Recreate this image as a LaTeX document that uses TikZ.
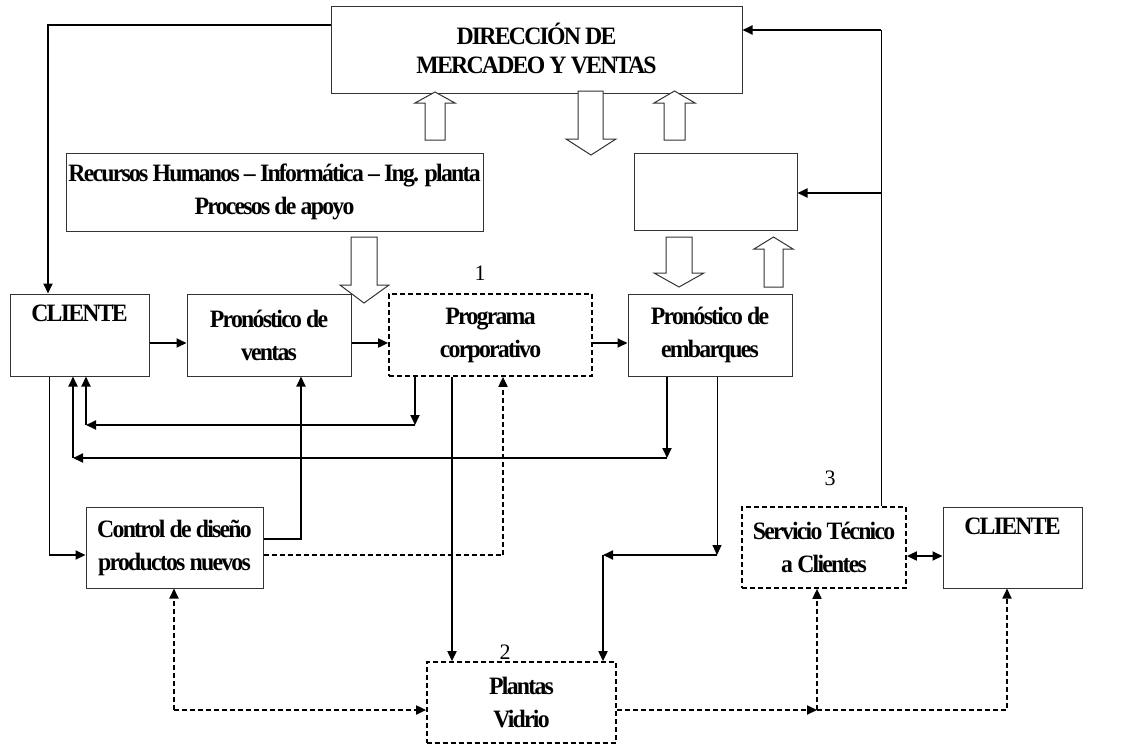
\documentclass[tikz,border=0pt]{standalone}
\usepackage{fontspec}
\setmainfont{Liberation Serif}
\newfontfamily\tightfont{Liberation Serif}[FakeStretch=0.95,LetterSpace=-7]
\usetikzlibrary{arrows.meta}
\begin{document}
\begin{tikzpicture}[x=1pt,y=-1pt,
  box/.style={draw=black!80,line width=1pt,inner sep=0pt,align=center,
    font=\tightfont\fontsize{25}{33}\selectfont\bfseries},
  dbox/.style={box,draw=black,line width=1.7pt,dash pattern=on 5pt off 3pt},
  conn/.style={line width=1.8pt,-{Triangle[length=10pt,width=9pt]}},
  thinl/.style={line width=1pt},
  dconn/.style={conn,dash pattern=on 5pt off 3pt},
  barrow/.style={draw=black!80,line width=1pt,fill=white,line join=miter},
  num/.style={font=\fontsize{22}{24}\selectfont,inner sep=0pt}]
\useasboundingbox (0,0) rectangle (1123,747);
% boxes
\node[box,minimum width=411pt,minimum height=87pt,font=\tightfont\fontsize{25}{29}\selectfont\bfseries] (dir) at (536.5,49.5) {DIRECCIÓN DE\\MERCADEO Y VENTAS\\[-26pt]\mbox{}};
\node[box,minimum width=417pt,minimum height=78pt] (rec) at (274.5,192) {Recursos Humanos – Informática – Ing. planta\\Procesos de apoyo};
\node[box,minimum width=163pt,minimum height=77pt] (blank) at (715.5,191.5) {};
\node[box,minimum width=139pt,minimum height=82pt] (cli) at (79.5,335) {CLIENTE\\\strut};
\node[box,minimum width=164pt,minimum height=82pt] (pv) at (269,335) {Pronóstico de\\ventas};
\node[dbox,minimum width=203pt,minimum height=82pt] (prog) at (490.5,335) {Programa\\corporativo};
\node[box,minimum width=164pt,minimum height=82pt] (pe) at (710,335) {Pronóstico de\\embarques};
\node[box,minimum width=177pt,minimum height=81pt] (cd) at (174.5,547.5) {Control de diseño\\productos nuevos};
\node[dbox,minimum width=189pt,minimum height=81pt] (pl) at (521.5,702.5) {Plantas\\Vidrio};
\node[dbox,minimum width=164pt,minimum height=81pt] (st) at (824,547.5) {Servicio Técnico\\a Clientes};
\node[box,minimum width=139pt,minimum height=81pt] (cr) at (1012.5,547.5) {CLIENTE\\\strut};
% numbers
\node[num] (n1) at (480,273) {1};
\node[num] (n2) at (505,652) {2};
\node[num] (n3) at (830,478) {3};
% block arrows
\draw[barrow] (425,140) -- (425,103) -- (415,103) -- (435,92) -- (455,103) -- (445,103) -- (445,140) -- cycle;
\draw[barrow] (578,91) -- (578,139) -- (566,139) -- (591,155) -- (616,139) -- (603,139) -- (603,91) -- cycle;
\draw[barrow] (664,140) -- (664,103) -- (654,103) -- (674.5,91) -- (695,103) -- (685,103) -- (685,140) -- cycle;
\draw[barrow] (351,237) -- (351,285) -- (340,285) -- (364,303) -- (389,285) -- (377,285) -- (377,237) -- cycle;
\draw[barrow] (666,237) -- (666,273) -- (654,273) -- (679,287) -- (704,273) -- (692,273) -- (692,237) -- cycle;
\draw[barrow] (764,287) -- (764,249) -- (754,249) -- (773.5,237) -- (793,249) -- (783,249) -- (783,287) -- cycle;
% connectors
\coordinate (c1) at (48,25);
\draw[conn] (dir.west |- c1) -- (c1) -- (cli.north -| c1);
\coordinate (c2) at (881,30);
\coordinate (c3) at (881,193);
\draw[thinl] (st.north -| c2) -- (c2);
\draw[conn] (c2) -- (dir.east |- c2);
\draw[conn] (c3) -- (blank.east |- c3);
\coordinate (r1) at (0,343);
\draw[conn] (cli.east |- r1) -- (pv.west |- r1);
\draw[conn] (pv.east |- r1) -- (prog.west |- r1);
\draw[conn] (prog.east |- r1) -- (pe.west |- r1);
% feedback to cliente
\coordinate (f1) at (415,425);
\coordinate (f1l) at (86,425);
\draw[conn] (prog.south -| f1) -- (f1);
\draw[conn] (f1) -- (f1l);
\draw[conn] (f1l) -- (cli.south -| f1l);
\coordinate (f2) at (667,458);
\coordinate (f2l) at (73,458);
\draw[conn] (pe.south -| f2) -- (f2);
\draw[conn] (f2) -- (f2l);
\draw[conn] (f2l) -- (cli.south -| f2l);
% cliente to control de diseno
\coordinate (g1) at (49,555);
\draw[thinl] (cli.south -| g1) -- (g1);
\draw[conn] (g1) -- (cd.west |- g1);
% control de diseno to pronostico ventas
\coordinate (h1) at (301,539);
\draw[conn] (cd.east |- h1) -- (h1) -- (pv.south -| h1);
% dashed control de diseno to programa
\coordinate (k1) at (503,555);
\draw[dconn] (cd.east |- k1) -- (k1) -- (prog.south -| k1);
% programa to plantas
\coordinate (m1) at (452,0);
\draw[conn] (prog.south -| m1) -- (pl.north -| m1);
% embarques to plantas
\coordinate (p1) at (717,555);
\coordinate (p2) at (603,555);
\draw[line width=1pt,-{Triangle[length=10pt,width=9pt]}] (pe.south -| p1) -- (p1);
\draw[conn] (p1) -- (p2);
\draw[conn] (p2) -- (pl.north -| p2);
% servicio tecnico <-> cliente
\coordinate (s1) at (0,556);
\draw[line width=1.8pt,{Triangle[length=10pt,width=9pt]}-{Triangle[length=10pt,width=9pt]}] (st.east |- s1) -- (cr.west |- s1);
% dashed bottom
\coordinate (d1) at (174,710);
\draw[dconn] (d1) -- (cd.south -| d1);
\draw[dconn] (d1) -- (pl.west |- d1);
\coordinate (d2) at (817,710);
\coordinate (d3) at (1007,710);
\draw[dconn] (pl.east |- d2) -- (d2);
\draw[dconn] (d2) -- (d3) -- (cr.south -| d3);
\draw[dconn] (d2) -- (st.south -| d2);
\end{tikzpicture}
\end{document}
